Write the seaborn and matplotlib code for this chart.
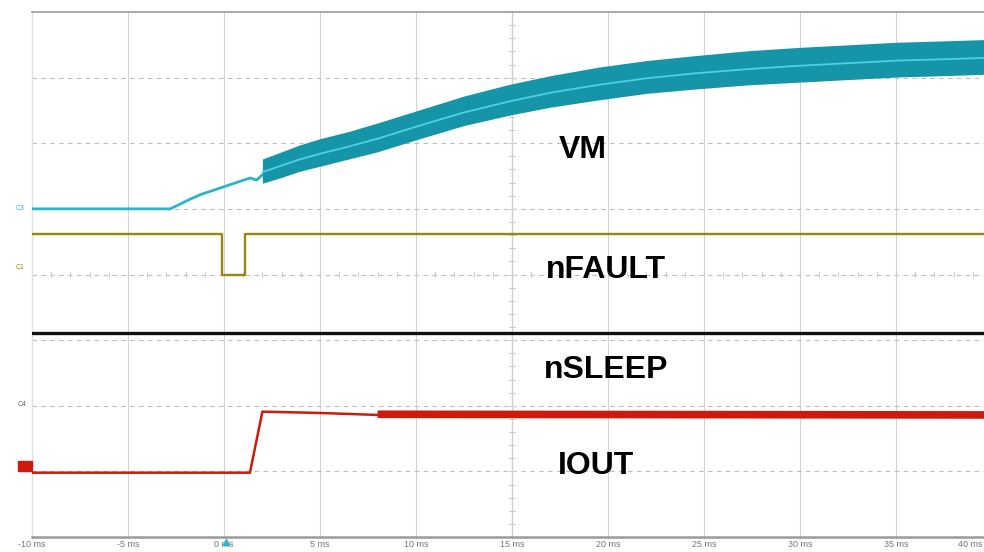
import numpy as np
import pandas as pd
import matplotlib
matplotlib.use("Agg")
import matplotlib.pyplot as plt
import matplotlib.transforms as mtransforms
import seaborn as sns

# ---------------- data (time in ms, level in screen divisions) ----------------
vm_t = [-10, -2.8, -1.75, -1.2, 1.35, 1.7, 2.0]
vm_v = [5.0, 5.0, 5.15, 5.22, 5.47, 5.44, 5.52]

band_t = [2.0, 3.0, 3.9, 5.0, 6.5, 8.0, 10.2, 12.5, 14.9, 17.0, 19.5, 22.0,
          24.7, 27.3, 29.9, 32.5, 35.1, 37.5, 39.6]
band_mid = [5.56, 5.66, 5.75, 5.84, 5.95, 6.07, 6.27, 6.47, 6.64, 6.77, 6.89, 6.99,
            7.07, 7.13, 7.18, 7.22, 7.26, 7.28, 7.30]
band_hi = [5.76, 5.87, 5.97, 6.07, 6.18, 6.31, 6.51, 6.72, 6.90, 7.03, 7.16, 7.26,
           7.34, 7.41, 7.46, 7.50, 7.54, 7.56, 7.58]
band_lo = [5.39, 5.48, 5.57, 5.65, 5.76, 5.87, 6.07, 6.27, 6.43, 6.55, 6.66, 6.76,
           6.83, 6.89, 6.93, 6.97, 7.01, 7.03, 7.05]

nfault_t = [-10, -0.1, -0.1, 1.1, 1.1, 39.6]
nfault_v = [4.62, 4.62, 4.0, 4.0, 4.62, 4.62]

nsleep_t = [-10, 39.6]
nsleep_v = [3.11, 3.11]

iout_t = [-10, 1.35, 2.0, 5.0, 8.0, 39.6]
iout_v = [0.98, 0.98, 1.91, 1.89, 1.86, 1.86]
iout_thick_t = [8.0, 39.6]
iout_thick_v = [1.87, 1.86]

tick_ms = [-10, -5, 0, 5, 10, 15, 20, 25, 30, 35, 40]
tick_labels = ["-10 ms", "-5 ms", "0 ms", "5 ms", "10 ms", "15 ms", "20 ms",
               "25 ms", "30 ms", "35 ms", "40 ms"]

labels = ["VM", "nFAULT", "nSLEEP", "IOUT"]
label_x = [18.7, 19.9, 19.9, 19.4]
label_y = [5.9, 4.07, 2.55, 1.08]

# ---------------- styling ----------------
sns.set_style("white")
plt.rcParams['font.family'] = ['Liberation Sans', 'DejaVu Sans']

C_VM_BAND = "#1795a8"
C_VM_LINE = "#4fd0e3"
C_VM = "#2bb5c8"
C_NF = "#9a870f"
C_NS = "#111111"
C_IO = "#cc1a0c"
GRID = "#d4d4d4"

fig = plt.figure(figsize=(9.84, 5.52), dpi=100)
ax = fig.add_axes([32 / 984, 15 / 552, 952 / 984, 525 / 552])

# graticule
for x in range(-5, 40, 5):
    ax.axvline(x, color=GRID, lw=0.8, zorder=0)
for y in range(1, 8):
    ax.axhline(y, color="#bdbdbd", lw=0.8, ls=(0, (4, 4)), zorder=0)
# center cross ticks
ax.axvline(15, color="#d0d0d0", lw=0.9, zorder=0)
for yy in np.arange(0.2, 8, 0.2):
    ax.plot([14.85, 15.15], [yy, yy], color="#cccccc", lw=0.7, zorder=0)
for xx in np.arange(-9, 40, 1):
    ax.plot([xx, xx], [3.96, 4.04], color="#cccccc", lw=0.7, zorder=0)

# traces
sns.lineplot(x=vm_t, y=vm_v, color=C_VM, lw=2.0, ax=ax, zorder=3,
             estimator=None, sort=False)
ax.fill_between(band_t, band_lo, band_hi, color=C_VM_BAND, lw=0, zorder=3)
sns.lineplot(x=band_t, y=band_mid, color=C_VM_LINE, lw=1.3, ax=ax, zorder=4)

sns.lineplot(x=nfault_t, y=nfault_v, color=C_NF, lw=1.7, ax=ax, zorder=3,
             estimator=None, sort=False)
sns.lineplot(x=nsleep_t, y=nsleep_v, color=C_NS, lw=2.4, ax=ax, zorder=3)
sns.lineplot(x=iout_t, y=iout_v, color=C_IO, lw=1.8, ax=ax, zorder=3,
             estimator=None, sort=False)
sns.lineplot(x=iout_thick_t, y=iout_thick_v, color=C_IO, lw=5.5, ax=ax, zorder=3,
             solid_capstyle="butt")

# labels
for lab, lx, ly in zip(labels, label_x, label_y):
    ax.text(lx, ly, lab, fontsize=23, fontweight="bold", color="black",
            ha="center", va="center", zorder=6)

# channel markers at left
fig.text(20 / 984, 1 - 208 / 552, "C3", fontsize=5, color=C_VM, ha="center", va="center")
fig.text(20 / 984, 1 - 268 / 552, "C1", fontsize=5, color=C_NF, ha="center", va="center")
fig.text(22 / 984, 1 - 405 / 552, "C4", fontsize=5, color="#666666", ha="center", va="center")
fig.patches.append(plt.Rectangle((18 / 984, 1 - 471 / 552), 14 / 984, 10 / 552,
                                 transform=fig.transFigure, color=C_IO))

# axes
ax.set_xlim(-10, 39.58)
ax.set_ylim(0, 8)
ax.set_xticks([])
ax.set_yticks([])
ax.set_xlabel("")
ax.set_ylabel("")
trans = mtransforms.blended_transform_factory(ax.transData, ax.transAxes)
for tm, tl in zip(tick_ms[:-1], tick_labels[:-1]):
    ax.text(tm, -0.015, tl, transform=trans, fontsize=6.5, color="#777777",
            ha="center", va="center", clip_on=False)
# last label sits at the right edge of the screen
ax.text(0.998, -0.015, tick_labels[-1], transform=ax.transAxes, fontsize=6.5,
        color="#777777", ha="right", va="center", clip_on=False)
ax.spines["right"].set_visible(False)
ax.spines["left"].set_color("#e2e2e2")
ax.spines["left"].set_linewidth(1.0)
ax.spines["top"].set_color("#9a9a9a")
ax.spines["top"].set_linewidth(1.2)
ax.spines["bottom"].set_color("#9a9a9a")
ax.spines["bottom"].set_linewidth(1.8)

# trigger marker at 0 ms
ax.plot([0.1], [-0.07], marker="^", ms=4, color=C_VM, clip_on=False, zorder=7)

fig.savefig("out.png", dpi=100)
